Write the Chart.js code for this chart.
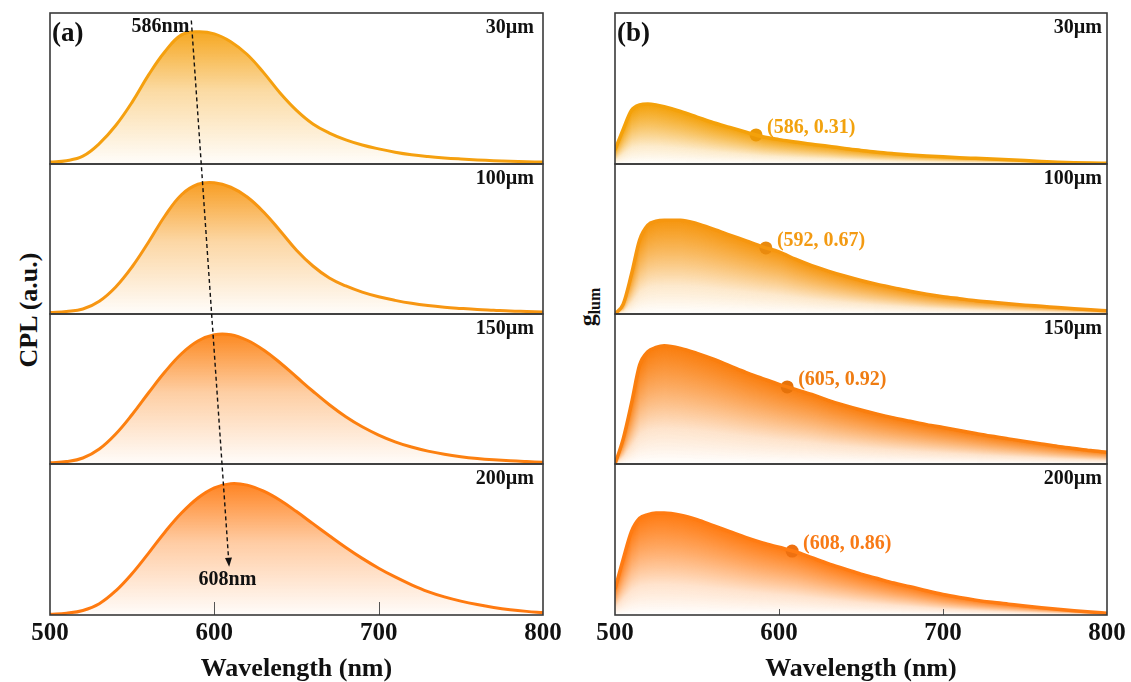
<!DOCTYPE html>
<html>
<head>
<meta charset="utf-8">
<title>CPL and g_lum spectra</title>
<script src="https://cdn.jsdelivr.net/npm/chart.js"></script>
<style>
    body { margin: 0; background: #fff; overflow: hidden; }
    #page { position: relative; width: 1131px; height: 682px; overflow: hidden; font-family: "Liberation Serif", "Times New Roman", serif; }
    #page canvas { position: absolute; }
    .ytitle { position: absolute; font-weight: bold; color: #111; line-height: 1; white-space: nowrap;
              transform: translate(-50%, -50%) rotate(-90deg); }
    .ytitle sub { font-size: 16px; }
    #arrow { position: absolute; left: 0; top: 0; }
</style>
</head>
<body>
<div id="page">
    <div class="ytitle" style="left:29px; top:310px; font-size:26px;">CPL (a.u.)</div>
    <div class="ytitle" style="left:589px; top:307px; font-size:24px;">g<sub>lum</sub></div>
</div>
<script>
// CPL spectra, sampled every 10 nm
const wavelengthA = [500, 510, 520, 530, 540, 550, 560, 570, 580, 590, 600, 610, 620, 630, 640, 650,
    660, 670, 680, 690, 700, 710, 720, 730, 740, 750, 760, 770, 780, 790, 800];
const cpl30 = [0.013, 0.022, 0.052, 0.135, 0.255, 0.41, 0.59, 0.745, 0.855, 0.876, 0.862, 0.81, 0.725, 0.605, 0.47, 0.355,
    0.265, 0.205, 0.16, 0.126, 0.1, 0.078, 0.061, 0.049, 0.04, 0.033, 0.027, 0.022, 0.018, 0.015, 0.013];
const cpl100 = [0.01, 0.017, 0.033, 0.085, 0.18, 0.315, 0.48, 0.655, 0.795, 0.865, 0.875, 0.845, 0.78, 0.68, 0.555, 0.425,
    0.32, 0.24, 0.187, 0.146, 0.115, 0.091, 0.071, 0.056, 0.045, 0.037, 0.03, 0.025, 0.02, 0.017, 0.014];
const cpl150 = [0.008, 0.016, 0.04, 0.1, 0.2, 0.33, 0.475, 0.615, 0.735, 0.82, 0.862, 0.862, 0.825, 0.76, 0.675, 0.58,
    0.485, 0.395, 0.315, 0.248, 0.193, 0.148, 0.113, 0.086, 0.065, 0.049, 0.037, 0.028, 0.021, 0.016, 0.012];
const cpl200 = [0.005, 0.012, 0.03, 0.075, 0.16, 0.275, 0.41, 0.55, 0.675, 0.775, 0.842, 0.87, 0.86, 0.82, 0.76, 0.685,
    0.605, 0.525, 0.447, 0.375, 0.31, 0.252, 0.2, 0.155, 0.12, 0.092, 0.069, 0.05, 0.035, 0.024, 0.016];

// g_lum spectra, denser on the steep blue edge
const wavelengthB = [500, 505, 510, 515, 520, 525, 530, 540, 550, 560, 570, 580, 590, 600, 610, 620, 630,
    640, 650, 660, 670, 680, 690, 700, 710, 720, 730, 740, 750, 760, 770, 780, 790, 800];
const glum30 = [0.15, 0.37, 0.57, 0.63, 0.64, 0.63, 0.61, 0.56, 0.5, 0.44, 0.39, 0.34, 0.29, 0.26, 0.235, 0.21, 0.19,
    0.165, 0.145, 0.125, 0.11, 0.097, 0.086, 0.076, 0.067, 0.06, 0.053, 0.045, 0.037, 0.028, 0.02, 0.014, 0.01, 0.008];
const glum100 = [0, 0.1, 0.4, 0.75, 0.9, 0.94, 0.95, 0.95, 0.915, 0.86, 0.8, 0.74, 0.68, 0.63, 0.555, 0.49, 0.435,
    0.385, 0.34, 0.3, 0.265, 0.23, 0.2, 0.175, 0.155, 0.135, 0.12, 0.105, 0.09, 0.078, 0.065, 0.053, 0.042, 0.032];
const glum150 = [0, 0.3, 0.72, 1.18, 1.34, 1.39, 1.41, 1.38, 1.32, 1.25, 1.17, 1.09, 1.02, 0.95, 0.89, 0.83, 0.76,
    0.7, 0.645, 0.595, 0.55, 0.51, 0.47, 0.435, 0.4, 0.365, 0.33, 0.3, 0.27, 0.24, 0.21, 0.185, 0.16, 0.14];
const glum200 = [0.35, 0.75, 1.12, 1.3, 1.35, 1.37, 1.37, 1.34, 1.28, 1.2, 1.12, 1.04, 0.97, 0.91, 0.85, 0.77, 0.69,
    0.62, 0.55, 0.49, 0.43, 0.38, 0.325, 0.275, 0.235, 0.2, 0.17, 0.145, 0.12, 0.097, 0.076, 0.057, 0.04, 0.025];

const thicknessLabels = ['30µm', '100µm', '150µm', '200µm'];
const peakWavelength = [586, 592, 605, 608];
const peakGlum = [0.31, 0.67, 0.92, 0.86];
const xTicks = [500, 600, 700, 800];
const shiftLabels = ['586nm', '608nm'];

// styling
const FONT = '"Liberation Serif", "Times New Roman", serif';
const cplColors = [[245, 160, 15], [247, 150, 18], [252, 128, 16], [255, 122, 16]];
const glumColors = [[244, 161, 10], [246, 150, 15], [250, 126, 14], [255, 123, 18]];
const markerColors = ['#ec9806', '#e98a0e', '#e5720a', '#ee7010'];
const labelColors = ['#f2a20e', '#f39a12', '#ef7c12', '#f87a16'];
const glumMax = [1.61, 1.52, 1.79, 2.03];
const rowEdges = [13, 164, 314, 464, 615];
const panels = [{ left: 50, right: 543, textInset: 9 }, { left: 615, right: 1107, textInset: 5 }];
const SIDE = 30;
const AXIS_H = 70;

function rgba(c, a) {
    return 'rgba(' + c[0] + ',' + c[1] + ',' + c[2] + ',' + a + ')';
}

function toPoints(xs, ys) {
    return xs.map((x, i) => ({ x: x, y: ys[i] }));
}

// shade each pixel column from the curve down to the baseline
function drawColumnFade(chart, c) {
    const meta = chart.getDatasetMeta(0);
    const pts = meta.data;
    const area = chart.chartArea;
    const base = chart.scales.y.getPixelForValue(0);
    const ctx = chart.ctx;
    ctx.save();
    ctx.beginPath();
    ctx.rect(area.left, area.top, area.width, area.height);
    ctx.clip();
    meta.dataset.updateControlPoints(area, 'x');
    ctx.beginPath();
    meta.dataset.path(ctx);
    ctx.lineTo(pts[pts.length - 1].x, base);
    ctx.lineTo(pts[0].x, base);
    ctx.closePath();
    ctx.clip();
    let j = 0;
    for (let px = Math.floor(pts[0].x); px <= Math.ceil(pts[pts.length - 1].x); px++) {
        while (j < pts.length - 2 && pts[j + 1].x < px) j++;
        const a = pts[j], b = pts[j + 1];
        const t = Math.min(1, Math.max(0, (px - a.x) / (b.x - a.x)));
        const yc = a.y + (b.y - a.y) * t;
        if (base - yc < 1) continue;
        const g = ctx.createLinearGradient(0, yc, 0, base);
        g.addColorStop(0, rgba(c, 1));
        g.addColorStop(0.35, rgba(c, 0.6));
        g.addColorStop(0.7, rgba(c, 0.18));
        g.addColorStop(1, rgba(c, 0));
        ctx.fillStyle = g;
        ctx.fillRect(px, yc - 8, 1.2, base - yc + 8);
    }
    ctx.restore();
}

function panelPlugin(info) {
    return {
        id: 'panelDecor',
        beforeDatasetsDraw(chart) {
            if (info.fadeColor) drawColumnFade(chart, info.fadeColor);
        },
        afterDraw(chart) {
            const ctx = chart.ctx;
            const area = chart.chartArea;
            const xs = chart.scales.x;
            ctx.save();
            // inward tick marks on the bottom row
            if (info.tickLength) {
                ctx.strokeStyle = '#555';
                ctx.lineWidth = 1;
                xTicks.forEach(v => {
                    if (v <= xs.min || v >= xs.max) return;
                    const px = Math.round(xs.getPixelForValue(v)) + 0.5;
                    ctx.beginPath();
                    ctx.moveTo(px, area.bottom);
                    ctx.lineTo(px, area.bottom - info.tickLength);
                    ctx.stroke();
                });
            }
            ctx.strokeStyle = '#3a3a3a';
            ctx.lineWidth = 1.6;
            ctx.strokeRect(area.left, area.top, area.width, area.height);

            ctx.fillStyle = '#111';
            ctx.textBaseline = 'middle';
            ctx.font = 'bold 20px ' + FONT;
            ctx.textAlign = 'right';
            ctx.fillText(info.thickness, area.right - info.textInset, area.top + 15);
            if (info.panelLabel) {
                ctx.font = 'bold 27px ' + FONT;
                ctx.textAlign = 'left';
                ctx.fillText(info.panelLabel, area.left + 2, area.top + 21);
            }
            if (info.startLabel) {
                ctx.font = 'bold 20px ' + FONT;
                ctx.textAlign = 'right';
                ctx.fillText(info.startLabel, xs.getPixelForValue(info.startAt) - 2, area.top + 14);
            }
            if (info.endLabel) {
                ctx.font = 'bold 20px ' + FONT;
                ctx.textAlign = 'center';
                ctx.fillText(info.endLabel, xs.getPixelForValue(info.endAt), area.bottom - 35);
            }
            if (info.markerLabel) {
                const pt = chart.getDatasetMeta(1).data[0];
                ctx.font = 'bold 20px ' + FONT;
                ctx.textAlign = 'left';
                ctx.fillStyle = info.markerLabelColor;
                ctx.fillText(info.markerLabel, pt.x + 11, pt.y - 7);
            }
            ctx.restore();
        }
    };
}

function createPanelChart(panel, row, datasets, yMax, info) {
    const isBottom = row === 3;
    const top = rowEdges[row] - 2;
    const height = rowEdges[row + 1] - rowEdges[row] + 2 + (isBottom ? AXIS_H : 2);
    const canvas = document.createElement('canvas');
    canvas.width = panel.right - panel.left + 2 * SIDE;
    canvas.height = height;
    canvas.style.left = (panel.left - SIDE) + 'px';
    canvas.style.top = top + 'px';
    document.getElementById('page').appendChild(canvas);

    info.textInset = panel.textInset;
    info.tickLength = isBottom ? info.tickLength : 0;

    const xScale = {
        type: 'linear',
        min: 500,
        max: 800,
        display: isBottom,
        afterBuildTicks: s => { s.ticks = xTicks.map(v => ({ value: v })); },
        ticks: {
            color: '#111',
            padding: 4,
            maxRotation: 0,
            autoSkip: false,
            font: { family: FONT, size: 25, weight: 'bold' }
        },
        grid: { display: false, drawTicks: false },
        border: { display: false },
        title: {
            display: true,
            text: 'Wavelength (nm)',
            color: '#111',
            padding: { top: 0, bottom: 0 },
            font: { family: FONT, size: 26, weight: 'bold' }
        }
    };
    if (isBottom) xScale.afterFit = s => { s.height = AXIS_H; };

    const chart = new Chart(canvas.getContext('2d'), {
        type: 'line',
        data: { datasets: datasets },
        options: {
            responsive: false,
            animation: false,
            devicePixelRatio: 1,
            layout: { autoPadding: false, padding: { left: SIDE, right: SIDE, top: 2, bottom: isBottom ? 0 : 2 } },
            scales: {
                x: xScale,
                y: { min: 0, max: yMax, display: false }
            },
            plugins: { legend: { display: false }, tooltip: { enabled: false } },
            elements: { point: { radius: 0 } }
        },
        plugins: [panelPlugin(info)]
    });
    chart.$left = panel.left - SIDE;
    chart.$top = top;
    return chart;
}

// CPL curve with a vertical fade from the peak down to the baseline
function cplDataset(values, c) {
    return {
        data: toPoints(wavelengthA, values),
        borderColor: rgba(c, 1),
        borderWidth: 3,
        tension: 0.4,
        fill: 'origin',
        backgroundColor: function(context) {
            const chart = context.chart;
            const area = chart.chartArea;
            if (!area) return 'transparent';
            const top = chart.scales.y.getPixelForValue(Math.max(...values));
            const g = chart.ctx.createLinearGradient(0, top, 0, area.bottom);
            g.addColorStop(0, rgba(c, 0.92));
            g.addColorStop(0.45, rgba(c, 0.38));
            g.addColorStop(1, rgba(c, 0.02));
            return g;
        }
    };
}

function glumDatasets(values, i) {
    return [{
        data: toPoints(wavelengthB, values),
        borderColor: rgba(glumColors[i], 1),
        borderWidth: 3.5,
        cubicInterpolationMode: 'monotone',
        fill: false
    }, {
        data: [{ x: peakWavelength[i], y: peakGlum[i] }],
        showLine: false,
        pointRadius: 6.5,
        pointBackgroundColor: markerColors[i],
        pointBorderWidth: 0
    }];
}

function drawShiftArrow(topChart, bottomChart) {
    const x1 = topChart.$left + topChart.scales.x.getPixelForValue(peakWavelength[0]);
    const y1 = topChart.$top + topChart.scales.y.getPixelForValue(0.95);
    const x2 = bottomChart.$left + bottomChart.scales.x.getPixelForValue(609);
    const y2 = bottomChart.$top + bottomChart.scales.y.getPixelForValue(0.32);
    const len = Math.hypot(x2 - x1, y2 - y1);
    const ux = (x2 - x1) / len, uy = (y2 - y1) / len;
    const head = 9, half = 3.5;
    const bx = x2 - ux * head, by = y2 - uy * head;
    const svg = document.createElementNS('http://www.w3.org/2000/svg', 'svg');
    svg.setAttribute('id', 'arrow');
    svg.setAttribute('width', 1131);
    svg.setAttribute('height', 682);
    svg.innerHTML =
        '<line x1="' + x1 + '" y1="' + y1 + '" x2="' + bx + '" y2="' + by +
        '" stroke="#111" stroke-width="1.4" stroke-dasharray="4,3"/>' +
        '<polygon fill="#111" points="' + x2 + ',' + y2 + ' ' +
        (bx - uy * half) + ',' + (by + ux * half) + ' ' + (bx + uy * half) + ',' + (by - ux * half) + '"/>';
    document.getElementById('page').appendChild(svg);
}

function main() {
    const cplSeries = [cpl30, cpl100, cpl150, cpl200];
    const glumSeries = [glum30, glum100, glum150, glum200];
    const cplCharts = [];

    cplSeries.forEach((values, i) => {
        const info = { thickness: thicknessLabels[i], tickLength: 13 };
        if (i === 0) {
            info.panelLabel = '(a)';
            info.startLabel = shiftLabels[0];
            info.startAt = peakWavelength[0];
        }
        if (i === 3) {
            info.endLabel = shiftLabels[1];
            info.endAt = peakWavelength[3];
        }
        cplCharts.push(createPanelChart(panels[0], i, [cplDataset(values, cplColors[i])], 1, info));
    });

    glumSeries.forEach((values, i) => {
        const info = {
            thickness: thicknessLabels[i],
            tickLength: 6,
            fadeColor: glumColors[i],
            markerLabel: '(' + peakWavelength[i] + ', ' + peakGlum[i].toFixed(2) + ')',
            markerLabelColor: labelColors[i]
        };
        if (i === 0) info.panelLabel = '(b)';
        createPanelChart(panels[1], i, glumDatasets(values, i), glumMax[i], info);
    });

    drawShiftArrow(cplCharts[0], cplCharts[3]);
}

main();
</script>
</body>
</html>
